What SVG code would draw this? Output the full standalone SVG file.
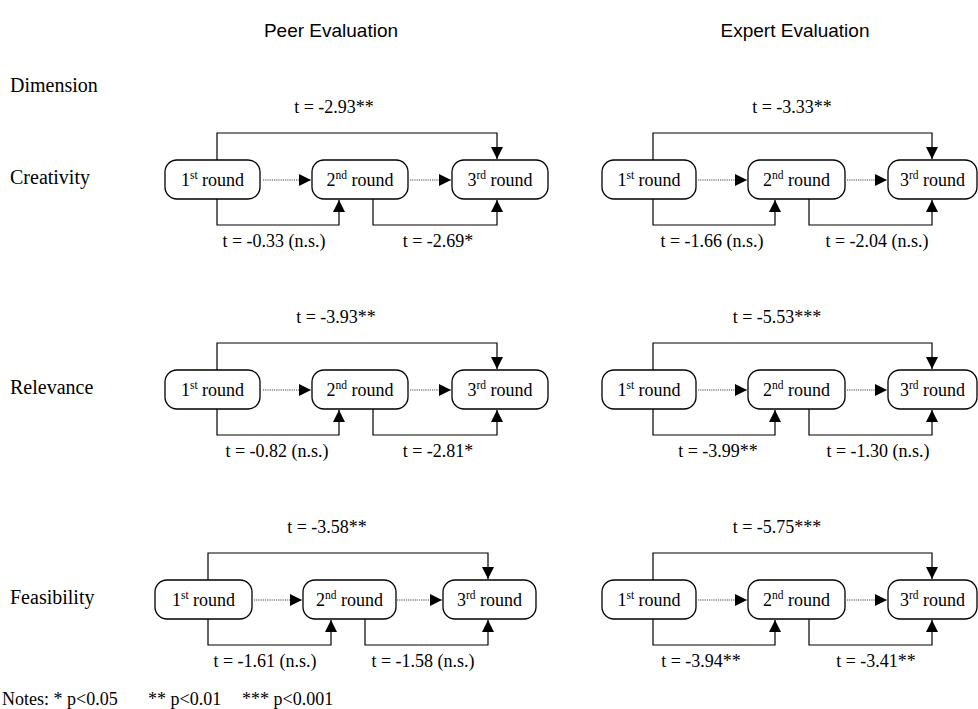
<svg xmlns="http://www.w3.org/2000/svg" width="978" height="709" viewBox="0 0 978 709">
<style>
.bg{fill:#fff}
.box{fill:#fff;stroke:#000;stroke-width:1.3}
.t{font-family:"Liberation Serif","Times New Roman",serif;font-size:18px;fill:#000;text-anchor:middle}
.lab{font-family:"Liberation Serif","Times New Roman",serif;font-size:20px;fill:#000}
.hd{font-family:"Liberation Sans",Arial,sans-serif;font-size:19px;fill:#000;text-anchor:middle}
.note{font-family:"Liberation Serif","Times New Roman",serif;font-size:18px;fill:#000}
.sup{font-size:11.5px}
.ln{fill:none;stroke:#000;stroke-width:1.2}
.dot{fill:none;stroke:#444;stroke-width:1.2;stroke-dasharray:1.2 1}
</style>
<defs>
<marker id="ah" markerWidth="12" markerHeight="12" refX="12" refY="6" orient="auto" markerUnits="userSpaceOnUse">
<path d="M0,0 L12,6 L0,12 z" fill="#000"/>
</marker>
</defs>
<rect class="bg" x="0" y="0" width="978" height="709"/>

<g id="headers">
<text class="hd" x="331" y="37">Peer Evaluation</text>
<text class="hd" x="795" y="37">Expert Evaluation</text>
</g>
<g id="row-labels">
<text class="lab" x="10" y="92">Dimension</text>
<text class="lab" x="10" y="184">Creativity</text>
<text class="lab" x="10" y="394">Relevance</text>
<text class="lab" x="10" y="604">Feasibility</text>
</g>

<!-- Connectors -->
<g id="connectors">
<!-- peer creativity -->
<path class="ln" d="M217,160 V133 H497 V159" marker-end="url(#ah)"/>
<path class="ln" d="M217,199 V225 H339 V200" marker-end="url(#ah)"/>
<path class="ln" d="M373,199 V225 H497 V200" marker-end="url(#ah)"/>
<path class="dot" d="M263,180 H311" marker-end="url(#ah)"/>
<path class="dot" d="M410,180 H451" marker-end="url(#ah)"/>
<!-- expert creativity -->
<path class="ln" d="M653,160 V133 H932 V159" marker-end="url(#ah)"/>
<path class="ln" d="M653,199 V225 H775 V200" marker-end="url(#ah)"/>
<path class="ln" d="M809,199 V225 H932 V200" marker-end="url(#ah)"/>
<path class="dot" d="M698,180 H747" marker-end="url(#ah)"/>
<path class="dot" d="M847,180 H887" marker-end="url(#ah)"/>
<!-- peer relevance -->
<path class="ln" d="M217,370 V343 H497 V369" marker-end="url(#ah)"/>
<path class="ln" d="M217,409 V435 H339 V410" marker-end="url(#ah)"/>
<path class="ln" d="M373,409 V435 H497 V410" marker-end="url(#ah)"/>
<path class="dot" d="M263,390 H311" marker-end="url(#ah)"/>
<path class="dot" d="M410,390 H451" marker-end="url(#ah)"/>
<!-- expert relevance -->
<path class="ln" d="M653,370 V343 H932 V369" marker-end="url(#ah)"/>
<path class="ln" d="M653,409 V435 H775 V410" marker-end="url(#ah)"/>
<path class="ln" d="M809,409 V435 H932 V410" marker-end="url(#ah)"/>
<path class="dot" d="M698,390 H747" marker-end="url(#ah)"/>
<path class="dot" d="M847,390 H887" marker-end="url(#ah)"/>
<!-- peer feasibility -->
<path class="ln" d="M208,580 V553 H488 V579" marker-end="url(#ah)"/>
<path class="ln" d="M208,619 V645 H331 V620" marker-end="url(#ah)"/>
<path class="ln" d="M365,619 V645 H488 V620" marker-end="url(#ah)"/>
<path class="dot" d="M254,600 H302" marker-end="url(#ah)"/>
<path class="dot" d="M397,600 H442" marker-end="url(#ah)"/>
<!-- expert feasibility -->
<path class="ln" d="M653,580 V553 H932 V579" marker-end="url(#ah)"/>
<path class="ln" d="M653,619 V645 H775 V620" marker-end="url(#ah)"/>
<path class="ln" d="M809,619 V645 H932 V620" marker-end="url(#ah)"/>
<path class="dot" d="M698,600 H747" marker-end="url(#ah)"/>
<path class="dot" d="M847,600 H887" marker-end="url(#ah)"/>
</g>

<g id="connector-labels">
<text class="t" x="334" y="113">t = -2.93**</text>
<text class="t" x="274" y="247">t = -0.33 (n.s.)</text>
<text class="t" x="438" y="247">t = -2.69*</text>
<text class="t" x="792" y="113">t = -3.33**</text>
<text class="t" x="712" y="247">t = -1.66 (n.s.)</text>
<text class="t" x="877" y="247">t = -2.04 (n.s.)</text>

<text class="t" x="336" y="323">t = -3.93**</text>
<text class="t" x="277" y="457">t = -0.82 (n.s.)</text>
<text class="t" x="438" y="457">t = -2.81*</text>
<text class="t" x="777" y="323">t = -5.53***</text>
<text class="t" x="718" y="457">t = -3.99**</text>
<text class="t" x="878" y="457">t = -1.30 (n.s.)</text>

<text class="t" x="327" y="533">t = -3.58**</text>
<text class="t" x="265" y="667">t = -1.61 (n.s.)</text>
<text class="t" x="423" y="667">t = -1.58 (n.s.)</text>
<text class="t" x="777" y="533">t = -5.75***</text>
<text class="t" x="701" y="667">t = -3.94**</text>
<text class="t" x="876" y="667">t = -3.41**</text>
</g>

<!-- Nodes -->
<g id="peer-creativity-r1"><rect class="box" x="165" y="160" width="95" height="39" rx="12"/><text class="t" x="212.5" y="186">1<tspan class="sup" dy="-7">st</tspan><tspan dy="7"> round</tspan></text></g>
<g id="peer-creativity-r2"><rect class="box" x="312" y="160" width="96" height="39" rx="12"/><text class="t" x="360" y="186">2<tspan class="sup" dy="-7">nd</tspan><tspan dy="7"> round</tspan></text></g>
<g id="peer-creativity-r3"><rect class="box" x="452" y="160" width="96" height="39" rx="12"/><text class="t" x="500" y="186">3<tspan class="sup" dy="-7">rd</tspan><tspan dy="7"> round</tspan></text></g>

<g id="expert-creativity-r1"><rect class="box" x="602" y="160" width="94" height="39" rx="12"/><text class="t" x="649" y="186">1<tspan class="sup" dy="-7">st</tspan><tspan dy="7"> round</tspan></text></g>
<g id="expert-creativity-r2"><rect class="box" x="748" y="160" width="97" height="39" rx="12"/><text class="t" x="796.5" y="186">2<tspan class="sup" dy="-7">nd</tspan><tspan dy="7"> round</tspan></text></g>
<g id="expert-creativity-r3"><rect class="box" x="888" y="160" width="89" height="39" rx="12"/><text class="t" x="932.5" y="186">3<tspan class="sup" dy="-7">rd</tspan><tspan dy="7"> round</tspan></text></g>

<g id="peer-relevance-r1"><rect class="box" x="165" y="370" width="95" height="39" rx="12"/><text class="t" x="212.5" y="396">1<tspan class="sup" dy="-7">st</tspan><tspan dy="7"> round</tspan></text></g>
<g id="peer-relevance-r2"><rect class="box" x="312" y="370" width="96" height="39" rx="12"/><text class="t" x="360" y="396">2<tspan class="sup" dy="-7">nd</tspan><tspan dy="7"> round</tspan></text></g>
<g id="peer-relevance-r3"><rect class="box" x="452" y="370" width="96" height="39" rx="12"/><text class="t" x="500" y="396">3<tspan class="sup" dy="-7">rd</tspan><tspan dy="7"> round</tspan></text></g>

<g id="expert-relevance-r1"><rect class="box" x="602" y="370" width="94" height="39" rx="12"/><text class="t" x="649" y="396">1<tspan class="sup" dy="-7">st</tspan><tspan dy="7"> round</tspan></text></g>
<g id="expert-relevance-r2"><rect class="box" x="748" y="370" width="97" height="39" rx="12"/><text class="t" x="796.5" y="396">2<tspan class="sup" dy="-7">nd</tspan><tspan dy="7"> round</tspan></text></g>
<g id="expert-relevance-r3"><rect class="box" x="888" y="370" width="89" height="39" rx="12"/><text class="t" x="932.5" y="396">3<tspan class="sup" dy="-7">rd</tspan><tspan dy="7"> round</tspan></text></g>

<g id="peer-feasibility-r1"><rect class="box" x="155" y="580" width="97" height="39" rx="12"/><text class="t" x="203.5" y="606">1<tspan class="sup" dy="-7">st</tspan><tspan dy="7"> round</tspan></text></g>
<g id="peer-feasibility-r2"><rect class="box" x="303" y="580" width="93" height="39" rx="12"/><text class="t" x="349.5" y="606">2<tspan class="sup" dy="-7">nd</tspan><tspan dy="7"> round</tspan></text></g>
<g id="peer-feasibility-r3"><rect class="box" x="443" y="580" width="93" height="39" rx="12"/><text class="t" x="489.5" y="606">3<tspan class="sup" dy="-7">rd</tspan><tspan dy="7"> round</tspan></text></g>

<g id="expert-feasibility-r1"><rect class="box" x="602" y="580" width="94" height="39" rx="12"/><text class="t" x="649" y="606">1<tspan class="sup" dy="-7">st</tspan><tspan dy="7"> round</tspan></text></g>
<g id="expert-feasibility-r2"><rect class="box" x="748" y="580" width="97" height="39" rx="12"/><text class="t" x="796.5" y="606">2<tspan class="sup" dy="-7">nd</tspan><tspan dy="7"> round</tspan></text></g>
<g id="expert-feasibility-r3"><rect class="box" x="888" y="580" width="89" height="39" rx="12"/><text class="t" x="932.5" y="606">3<tspan class="sup" dy="-7">rd</tspan><tspan dy="7"> round</tspan></text></g>

<g id="notes">
<text class="note" x="2" y="705">Notes: * p&lt;0.05</text>
<text class="note" x="148" y="705">** p&lt;0.01</text>
<text class="note" x="242" y="705">*** p&lt;0.001</text>
</g>
</svg>
